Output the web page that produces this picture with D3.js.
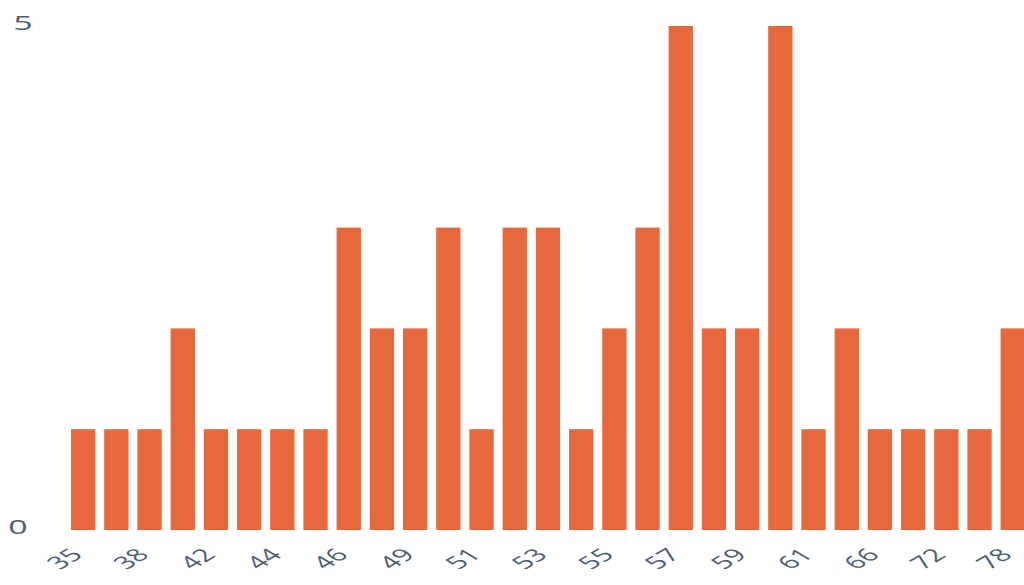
<!DOCTYPE html>
<html><head><meta charset="utf-8">
<script src="https://cdn.jsdelivr.net/npm/d3@7"></script>
<style>body{margin:0;background:#fff;}svg{display:block;}</style>
</head><body>
<svg id="c" width="1024" height="585"></svg>
<script>
const categories = ["35","37","38","41","42","43","44","45","46","48","49","50","51","52","53","54","55","56","57","58","59","60","61","63","66","68","72","75","78"];
const values = [1,1,1,2,1,1,1,1,3,2,2,3,1,3,3,1,2,3,5,2,2,5,1,2,1,1,1,1,2];
const yTicks = [0,5];

const svg = d3.select("#c");
const x = d3.scaleBand().domain(categories).range([62.7,1033.2]).paddingInner(0.268).paddingOuter(0.25);
const y = d3.scaleLinear().domain([0,5]).range([530,26]);
const textColor = "#4c5d78";

svg.selectAll("rect.bar").data(values).enter().append("rect")
  .attr("class","bar")
  .attr("x",(d,i)=>x(categories[i]))
  .attr("width",x.bandwidth())
  .attr("y",d=>y(d))
  .attr("height",d=>y(0)-y(d))
  .attr("fill","#e6683c");

const xAxis = d3.axisBottom(x).tickSize(0).tickPadding(0)
  .tickValues(categories.filter((c,i)=>i%2===0));
const gx = svg.append("g").attr("transform","translate(0,530)").call(xAxis);
gx.select(".domain").remove();
gx.selectAll("text")
  .attr("fill",textColor)
  .style("font-family","'Open Sans', sans-serif")
  .style("font-size","17.5px")
  .attr("text-anchor","end")
  .attr("y",0)
  .attr("dy","0")
  .attr("transform","translate(1,26) scale(1.72,1) rotate(-45)");

const yAxis = d3.axisLeft(y).tickValues(yTicks).tickFormat(d3.format("d")).tickSize(0).tickPadding(0);
const gy = svg.append("g").call(yAxis);
gy.select(".domain").remove();
gy.selectAll("text")
  .attr("fill",textColor)
  .attr("text-anchor","middle")
  .attr("x",0)
  .attr("dy","0")
  .attr("dominant-baseline","central")
  .attr("transform",d=>"translate(" + (d===0 ? 18 : 23) + ",-4) scale(1.7,1)")
  .style("font-family","'Open Sans', sans-serif")
  .style("font-size","20px");
</script>
</body></html>
